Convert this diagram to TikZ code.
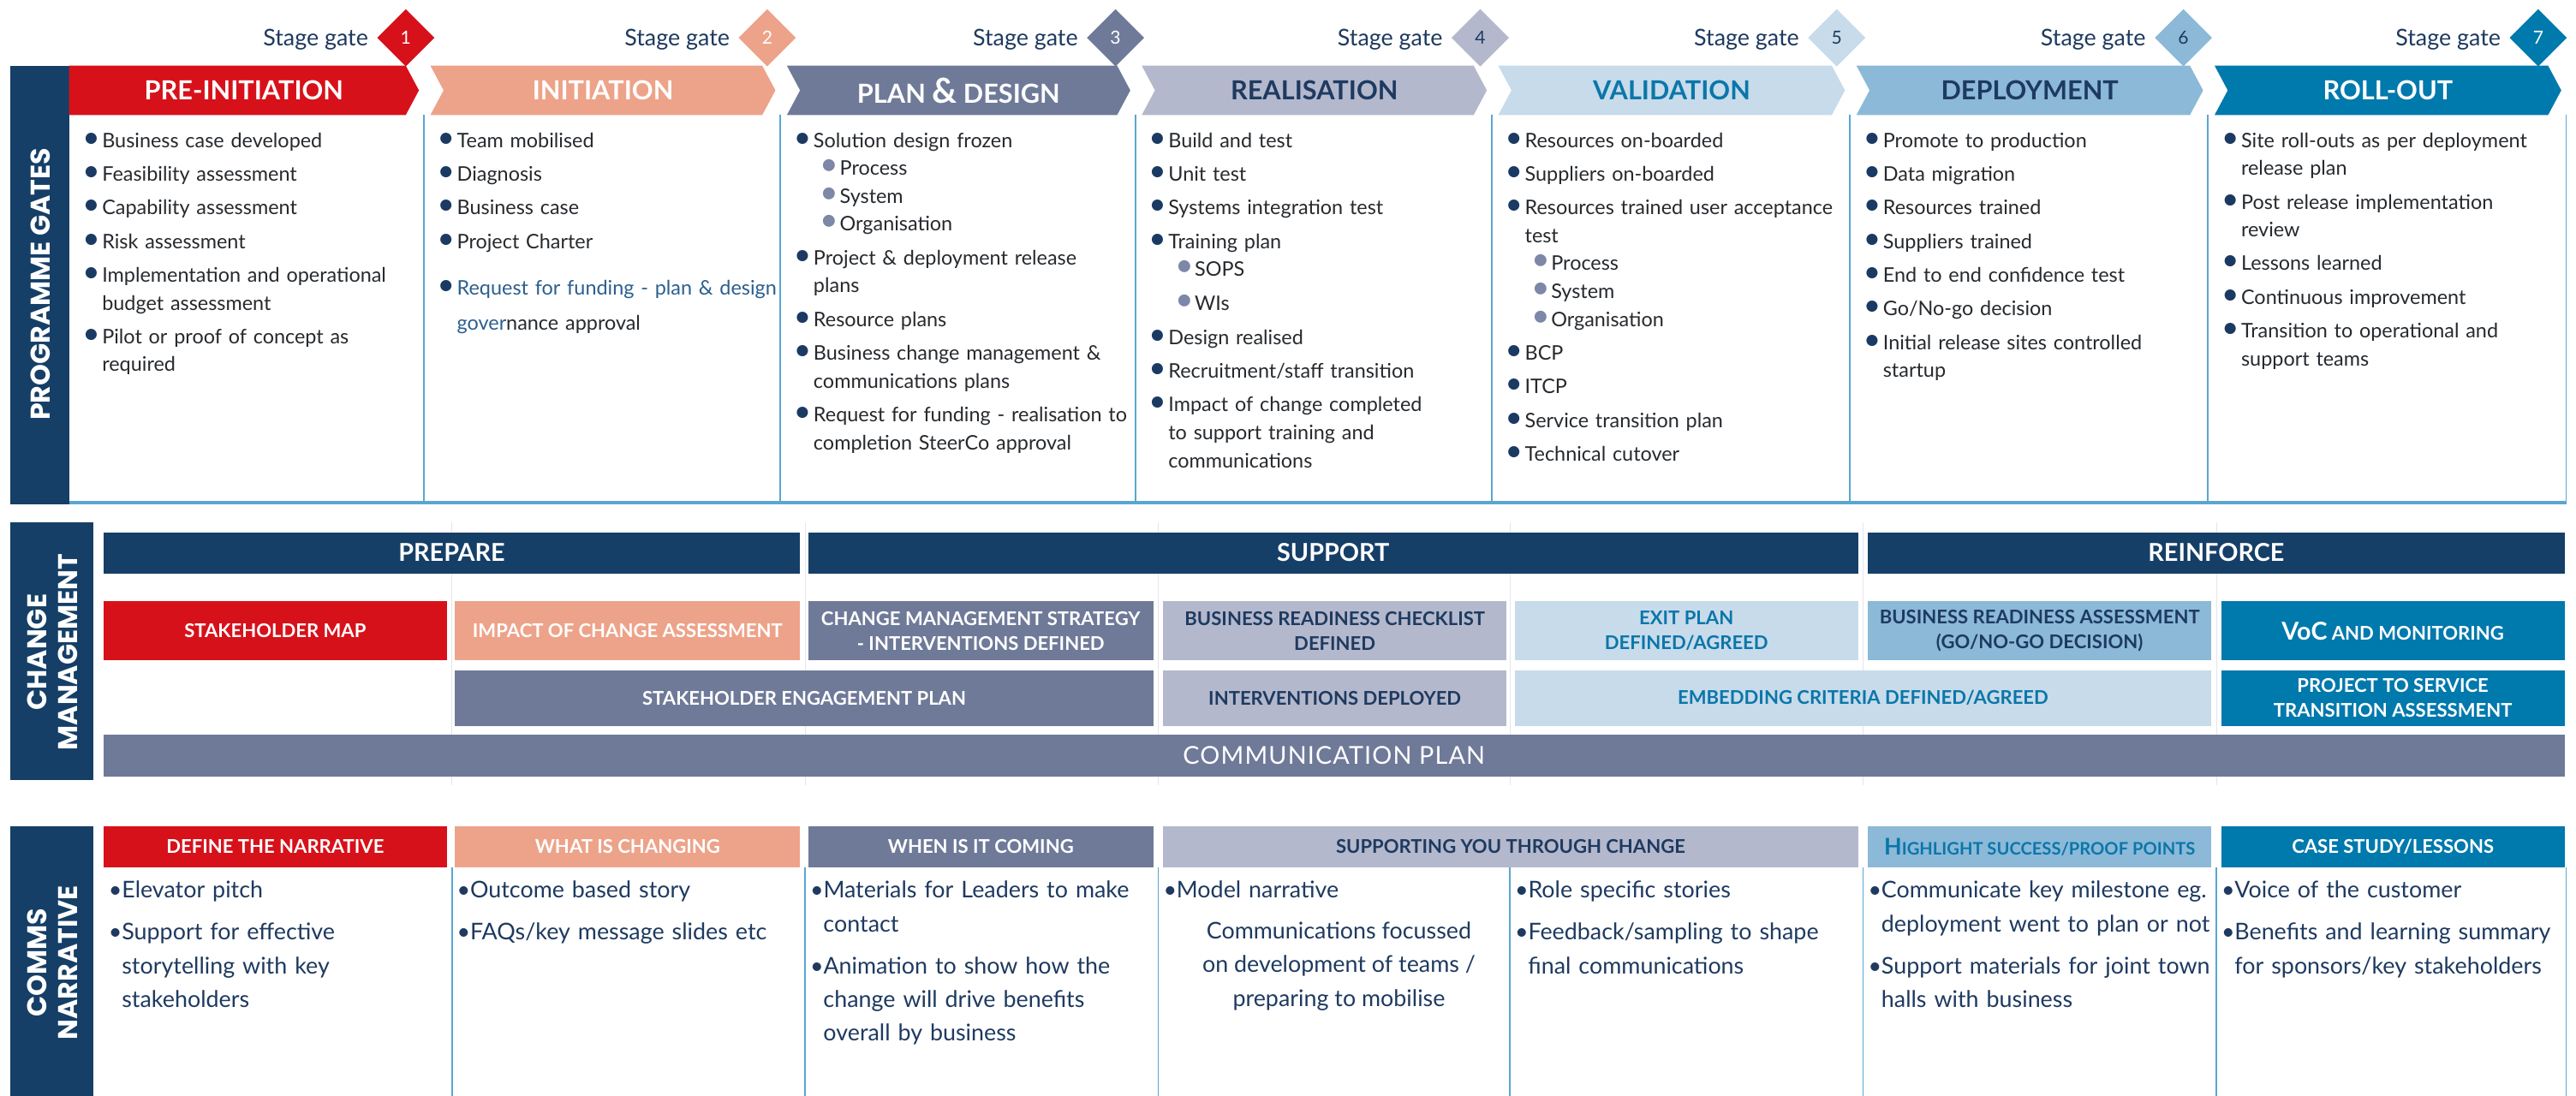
\documentclass[tikz,border=0pt]{standalone}
\usepackage{fontspec}
\setmainfont{Lato}
\newfontfamily\barfont{Poppins}
\usetikzlibrary{shapes.geometric}

\definecolor{navy}{HTML}{153F67}
\definecolor{redc}{HTML}{D7111A}
\definecolor{salmon}{HTML}{EDA389}
\definecolor{slate}{HTML}{6F7A99}
\definecolor{greyblue}{HTML}{B4B8CC}
\definecolor{paleblue}{HTML}{C7DBEA}
\definecolor{midblue}{HTML}{8BB9D7}
\definecolor{teal}{HTML}{0079AD}
\definecolor{tealtext}{HTML}{0B76AA}
\definecolor{bodytext}{HTML}{262A2E}
\definecolor{navytext}{HTML}{1E3A60}
\definecolor{bulletc}{HTML}{1B3A63}
\definecolor{subc}{HTML}{7D88A8}
\definecolor{reqblue}{HTML}{2B5F8F}
\definecolor{linec}{HTML}{5AA6D2}
\definecolor{faint}{HTML}{E3E6EE}

\hyphenpenalty=10000
\exhyphenpenalty=10000

% bullet items
\newcommand{\bitem}[1]{\par\vspace{3.5pt}\noindent\hangindent=12pt\hangafter=1%
  \makebox[12pt][l]{\textcolor{bulletc}{\scalebox{1.5}{•}}}#1\par}
\newcommand{\sitem}[1]{\par\noindent\hspace*{16pt}%
  \makebox[12pt][l]{\textcolor{subc}{\scalebox{1.6}{•}}}#1\par}
\newcommand{\citem}[1]{\par\vspace{5pt}\noindent\hangindent=8pt\hangafter=1%
  \makebox[8pt][l]{•}#1\par}

\tikzset{
  sidebar/.style={text=white, rotate=90, align=center, inner sep=0,
    font=\barfont\bfseries\fontsize{16.5}{19}\selectfont},
  chevlabel/.style={inner sep=0, font=\bfseries\fontsize{16}{18}\selectfont},
  gate/.style={diamond, minimum width=35pt, minimum height=35pt, inner sep=0,
    font=\fontsize{11}{12}\selectfont},
  gatelabel/.style={anchor=base east, inner sep=0, text=navytext,
    font=\fontsize{14}{16}\selectfont},
  pgtext/.style={anchor=north west, inner sep=0, text width=216pt, align=left,
    text=bodytext, font=\fontsize{12.2}{17}\selectfont},
  cntext/.style={anchor=north west, inner sep=0, text width=216pt, align=left,
    text=navytext, font=\fontsize{14}{20.5}\selectfont},
  divline/.style={linec, line width=1pt},
  cmhead/.style={fill=navy, text=white, minimum height=25pt, inner sep=0,
    font=\bfseries\fontsize{15}{17}\selectfont},
  cmbox/.style={minimum height=36pt, inner sep=0, align=center,
    font=\bfseries\fontsize{11.5}{15}\selectfont},
  cmrow/.style={cmbox, minimum height=34pt},
  cnhead/.style={minimum height=25pt, inner sep=0,
    font=\bfseries\fontsize{11.5}{14}\selectfont}
}

\begin{document}
\begin{tikzpicture}[x=1pt,y=-1pt]
  \useasboundingbox (0,0) rectangle (1568,667);
  \fill[white] (0,0) rectangle (1568,667);

  % ---- programme gates
  \fill[navy] (6,40) rectangle (42,307);
  \node[sidebar] (pglbl) at (24.5,173) {PROGRAMME GATES};

  \fill[redc] (42,40) -- (247,40) -- (255,55) -- (247,70) -- (42,70) -- cycle;
  \foreach \L/\R/\c in {258/475/salmon,475/691/slate,691/908/greyblue,
    908/1126/paleblue,1126/1344/midblue,1344/1562/teal}{
    \fill[\c] (\L+4,40) -- (\R-11,40) -- (\R-3,55) -- (\R-11,70)
      -- (\L+4,70) -- (\L+12,55) -- cycle;
  }
  \node[chevlabel, text=white] (ch1) at (148.5,55) {PRE-INITIATION};
  \node[chevlabel, text=white] (ch2) at (367,55) {INITIATION};
  \node[chevlabel, text=white] (ch3) at (583.5,55)
    {PLAN {\fontsize{21}{21}\selectfont\&} DESIGN};
  \node[chevlabel, text=navytext] (ch4) at (800,55) {REALISATION};
  \node[chevlabel, text=tealtext] (ch5) at (1017.5,55) {VALIDATION};
  \node[chevlabel, text=navytext] (ch6) at (1235.5,55) {DEPLOYMENT};
  \node[chevlabel, text=white] (ch7) at (1453.5,55) {ROLL-OUT};

  \node[gate, fill=redc, text=white] (g1) at (247,23) {1};
  \node[gate, fill=salmon, text=white] (g2) at (467,23) {2};
  \node[gate, fill=slate, text=white] (g3) at (679,23) {3};
  \node[gate, fill=greyblue, text=navytext] (g4) at (901,23) {4};
  \node[gate, fill=paleblue, text=navytext] (g5) at (1118,23) {5};
  \node[gate, fill=midblue, text=navytext] (g6) at (1329,23) {6};
  \node[gate, fill=teal, text=white] (g7) at (1545,23) {7};
  \foreach \g in {1,...,7}{
    \node[gatelabel] (sg\g) at ([xshift=-5pt,yshift=-5pt]g\g.west) {Stage gate};
  }

  \foreach \x in {258,475,691,908,1126,1344,1562}{
    \draw[divline] (\x,70) -- (\x,306);
  }
  \draw[linec, line width=2pt] (42,306) -- (1562,306);

  \node[pgtext] (pg1) at (50,69) {
    \bitem{Business case developed}
    \bitem{Feasibility assessment}
    \bitem{Capability assessment}
    \bitem{Risk assessment}
    \bitem{Implementation and operational\newline budget assessment}
    \bitem{Pilot or proof of concept as\newline required}};
  \node[pgtext] (pg2) at (266,69) {
    \bitem{Team mobilised}
    \bitem{Diagnosis}
    \bitem{Business case}
    \bitem{Project Charter}
    \vspace{4pt}
    {\fontsize{12.2}{21}\selectfont\bitem{\textcolor{reqblue}{Request for funding
      - plan \& design\newline gover}nance approval}}};
  \node[pgtext] (pg3) at (483,69) {
    \bitem{Solution design frozen}
    \sitem{Process}
    \sitem{System}
    \sitem{Organisation}
    \bitem{Project \& deployment release\newline plans}
    \bitem{Resource plans}
    \bitem{Business change management \&\newline communications plans}
    \bitem{Request for funding - realisation to\newline completion SteerCo approval}};
  \node[pgtext] (pg4) at (699,69) {
    \bitem{Build and test}
    \bitem{Unit test}
    \bitem{Systems integration test}
    \bitem{Training plan}
    \sitem{SOPS}
    \vspace{4pt}
    \sitem{WIs}
    \bitem{Design realised}
    \bitem{Recruitment/staff transition}
    \bitem{Impact of change completed\newline to support training and\newline
      communications}};
  \node[pgtext] (pg5) at (916,69) {
    \bitem{Resources on-boarded}
    \bitem{Suppliers on-boarded}
    \bitem{Resources trained user acceptance\newline test}
    \sitem{Process}
    \sitem{System}
    \sitem{Organisation}
    \bitem{BCP}
    \bitem{ITCP}
    \bitem{Service transition plan}
    \bitem{Technical cutover}};
  \node[pgtext] (pg6) at (1134,69) {
    \bitem{Promote to production}
    \bitem{Data migration}
    \bitem{Resources trained}
    \bitem{Suppliers trained}
    \bitem{End to end confidence test}
    \bitem{Go/No-go decision}
    \bitem{Initial release sites controlled\newline startup}};
  \node[pgtext] (pg7) at (1352,69) {
    \bitem{Site roll-outs as per deployment\newline release plan}
    \bitem{Post release implementation\newline review}
    \bitem{Lessons learned}
    \bitem{Continuous improvement}
    \bitem{Transition to operational and\newline support teams}};

  % ---- change management
  \fill[navy] (6,318) rectangle (57,475);
  \node[sidebar] (cmlbl) at (32,397) {CHANGE\\MANAGEMENT};
  \foreach \x in {275,490,705,919,1134,1349}{
    \draw[faint] (\x,318) -- (\x,478);
  }
  \node[cmhead, minimum width=424pt] (prepare) at (275,336.5) {PREPARE};
  \node[cmhead, minimum width=639pt] (support) at (811.5,336.5) {SUPPORT};
  \node[cmhead, minimum width=424pt] (reinforce) at (1349,336.5) {REINFORCE};

  \node[cmbox, fill=redc, text=white, minimum width=209pt] (smap)
    at (167.5,384) {STAKEHOLDER MAP};
  \node[cmbox, fill=salmon, text=white, minimum width=210pt] (impact)
    at (382,384) {IMPACT OF CHANGE ASSESSMENT};
  \node[cmbox, fill=slate, text=white, minimum width=210pt] (cmstrat)
    at (597,384) {CHANGE MANAGEMENT STRATEGY\\- INTERVENTIONS DEFINED};
  \node[cmbox, fill=greyblue, text=navytext, minimum width=209pt] (brcheck)
    at (812.5,384) {BUSINESS READINESS CHECKLIST\\DEFINED};
  \node[cmbox, fill=paleblue, text=tealtext, minimum width=209pt] (exitplan)
    at (1026.5,384) {EXIT PLAN\\DEFINED/AGREED};
  \node[cmbox, fill=midblue, text=navytext, minimum width=209pt] (brassess)
    at (1241.5,384) {BUSINESS READINESS ASSESSMENT\\(GO/NO-GO DECISION)};
  \node[cmbox, fill=teal, text=white, minimum width=209pt] (voc)
    at (1456.5,384) {{\fontsize{15}{17}\selectfont VoC}
    {\fontsize{11.5}{14}\selectfont AND MONITORING}};

  \node[cmrow, fill=slate, text=white, minimum width=425pt] (sengage)
    at (489.5,425) {STAKEHOLDER ENGAGEMENT PLAN};
  \node[cmrow, fill=greyblue, text=navytext, minimum width=209pt] (intdep)
    at (812.5,425) {INTERVENTIONS DEPLOYED};
  \node[cmrow, fill=paleblue, text=tealtext, minimum width=424pt] (embed)
    at (1134,425) {EMBEDDING CRITERIA DEFINED/AGREED};
  \node[cmrow, fill=teal, text=white, minimum width=209pt] (ptos)
    at (1456.5,425) {PROJECT TO SERVICE\\TRANSITION ASSESSMENT};

  \node[fill=slate, text=white, minimum width=1498pt, minimum height=26pt,
    inner sep=0, font=\fontsize{15}{17}\selectfont\addfontfeature{LetterSpace=4}]
    (complan) at (812,460) {COMMUNICATION PLAN};

  % ---- comms narrative
  \fill[navy] (6,503) rectangle (57,667);
  \node[sidebar] (cnlbl) at (32,586) {COMMS\\NARRATIVE};
  \node[cnhead, fill=redc, text=white, minimum width=209pt] (cdefine)
    at (167.5,515.5) {DEFINE THE NARRATIVE};
  \node[cnhead, fill=salmon, text=white, minimum width=210pt] (cwhat)
    at (382,515.5) {WHAT IS CHANGING};
  \node[cnhead, fill=slate, text=white, minimum width=210pt] (cwhen)
    at (597,515.5) {WHEN IS IT COMING};
  \node[cnhead, fill=greyblue, text=navytext, minimum width=423pt] (csupp)
    at (919.5,515.5) {SUPPORTING YOU THROUGH CHANGE};
  \node[cnhead, fill=midblue, text=tealtext, minimum width=209pt] (chigh)
    at (1241.5,515.5) {{\fontsize{14}{16}\selectfont H}{\fontsize{10.5}{14}%
    \selectfont IGHLIGHT SUCCESS/PROOF POINTS}};
  \node[cnhead, fill=teal, text=white, minimum width=209pt] (ccase)
    at (1456.5,515.5) {CASE STUDY/LESSONS};
  \foreach \x in {275,490,705,919,1134,1349,1562}{
    \draw[divline] (\x,528) -- (\x,667);
  }

  \node[cntext] (cn1) at (66,521) {
    \citem{Elevator pitch}
    \citem{Support for effective\newline storytelling with key\newline stakeholders}};
  \node[cntext] (cn2) at (278,521) {
    \citem{Outcome based story}
    \citem{FAQs/key message slides etc}};
  \node[cntext] (cn3) at (493,521) {
    \citem{Materials for Leaders to make\newline contact}
    \citem{Animation to show how the\newline change will drive benefits\newline
      overall by business}};
  \node[cntext] (cn4) at (708,521) {\citem{Model narrative}};
  \node[anchor=north, inner sep=0, align=center, text=navytext,
    font=\fontsize{14}{20.5}\selectfont] (cn4b) at (815,561)
    {Communications focussed\\on development of teams /\\preparing to mobilise};
  \node[cntext] (cn5) at (922,521) {
    \citem{Role specific stories}
    \citem{Feedback/sampling to shape\newline final communications}};
  \node[cntext] (cn6) at (1137,521) {
    \citem{Communicate key milestone eg.\newline deployment went to plan or not}
    \citem{Support materials for joint town\newline halls with business}};
  \node[cntext] (cn7) at (1352,521) {
    \citem{Voice of the customer}
    \citem{Benefits and learning summary\newline for sponsors/key stakeholders}};
\end{tikzpicture}
\end{document}
